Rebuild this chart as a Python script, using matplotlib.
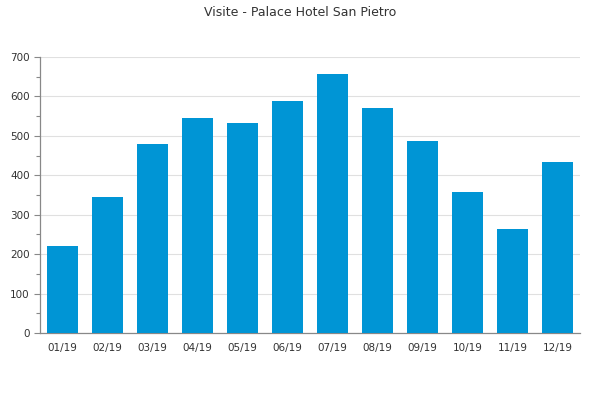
import matplotlib
matplotlib.use("Agg")
import matplotlib.pyplot as plt
from matplotlib.ticker import MultipleLocator

categories = ["01/19", "02/19", "03/19", "04/19", "05/19", "06/19",
              "07/19", "08/19", "09/19", "10/19", "11/19", "12/19"]
visits = [221, 345, 479, 545, 533, 588, 657, 571, 487, 358, 264, 434]
title = "Visite - Palace Hotel San Pietro"

fig = plt.figure(figsize=(6, 4), dpi=100)
ax = fig.add_axes([40/600, 67/400, 540/600, 276/400])
x = range(len(categories))
ax.bar(x, visits, width=0.69, color="#0095d5", zorder=3)
ax.set_xlim(-0.5, len(categories) - 0.5)
ax.set_ylim(0, 700)
ax.yaxis.set_major_locator(MultipleLocator(100))
ax.yaxis.set_minor_locator(MultipleLocator(50))
ax.set_xticks(list(x))
ax.set_xticklabels(categories)
ax.grid(axis="y", color="#e0e0e0", linewidth=0.8, zorder=0)
for s in ["top", "right"]:
    ax.spines[s].set_visible(False)
for s in ["left", "bottom"]:
    ax.spines[s].set_color("#888888")
    ax.spines[s].set_linewidth(0.9)
ax.tick_params(axis="y", which="both", colors="#888888", labelcolor="#333333",
               labelsize=7.5, length=4, width=0.8, direction="out")
ax.tick_params(axis="y", which="minor", length=3)
ax.tick_params(axis="x", length=0, labelsize=7.5, labelcolor="#333333", pad=7)
fig.text(0.5, 0.97, title, ha="center", va="center", fontsize=9, color="#333333")
fig.savefig("out.png", dpi=100)
